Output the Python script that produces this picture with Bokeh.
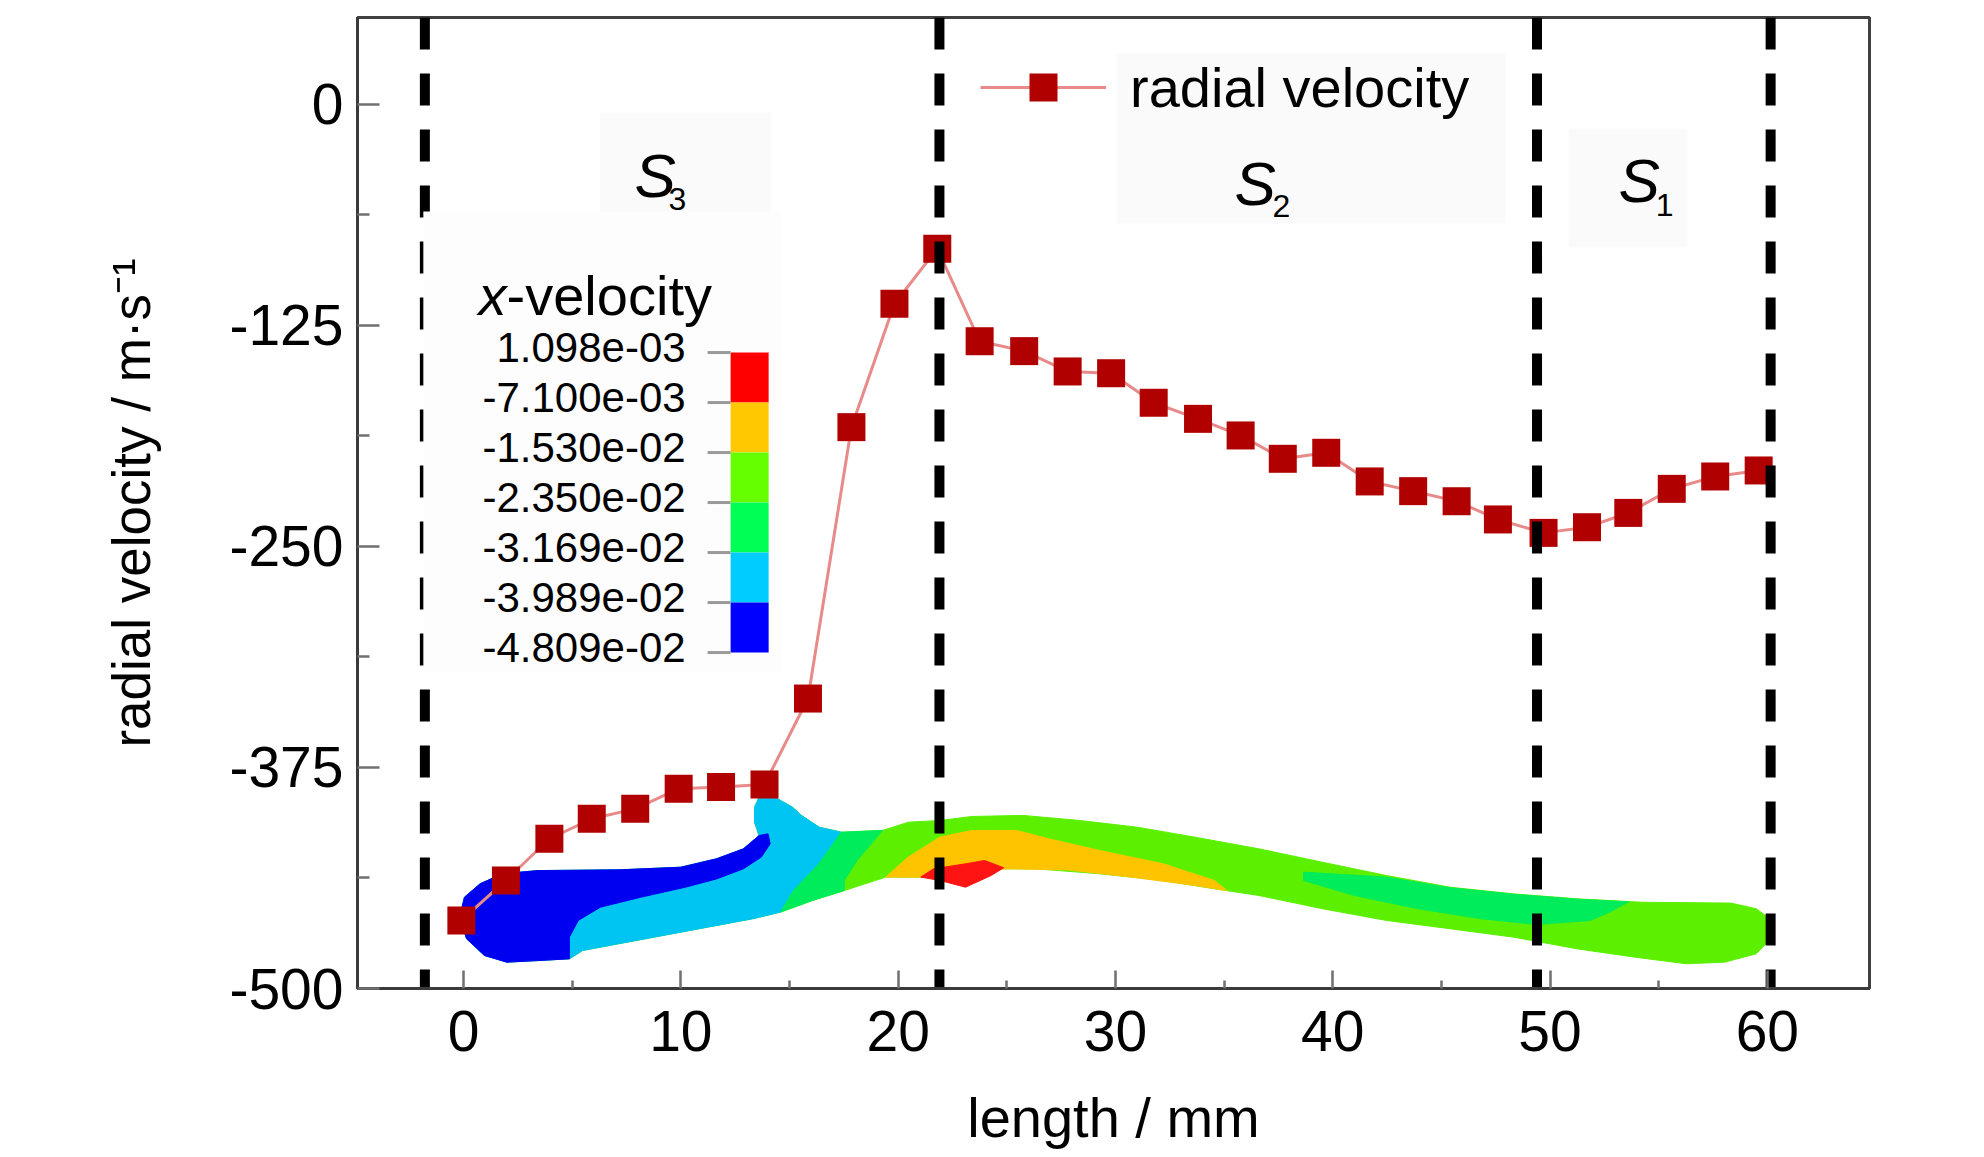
from bokeh.plotting import figure
from bokeh.models import ColumnDataSource, FixedTicker, Legend, LegendItem, CustomJSTickFormatter
from bokeh.core.properties import value
from bokeh.embed import file_html
from bokeh.resources import INLINE

# radial velocity along the nozzle
length_mm = [-0.1, 1.95, 3.95, 5.9, 7.9, 9.9, 11.85, 13.85, 15.85, 17.85, 19.83,
             21.8, 23.75, 25.8, 27.8, 29.8, 31.76, 33.8, 35.76, 37.7, 39.7,
             41.7, 43.7, 45.7, 47.6, 49.7, 51.7, 53.6, 55.6, 57.6, 59.6]
radial_velocity = [-461.5, -438.9, -415.3, -404.0, -398.4, -387.0, -386.1, -384.6,
                   -336.0, -182.5, -112.7, -81.6, -133.9, -139.5, -151.0, -152.0,
                   -168.7, -177.8, -187.2, -200.4, -197.0, -213.2, -218.7, -224.4,
                   -234.7, -242.3, -239.1, -231.0, -217.4, -210.4, -207.0]

# stage boundaries (dashed lines) and stage names
stage_bounds = [-1.78, 21.9, 49.4, 60.15]
stage_subscripts = ["3", "2", "1"]

# x-velocity colour legend
cbar_labels = ["1.098e-03", "-7.100e-03", "-1.530e-02", "-2.350e-02",
               "-3.169e-02", "-3.989e-02", "-4.809e-02"]
cbar_colors = ["#ff0000", "#ffc800", "#66ff00", "#00ff55", "#00ccff", "#0000ff"]

# x-velocity contour bands (outline in length / velocity units)
band_green_x = [-0.18, 0.04, 0.76, 1.79, 3.43, 7.13, 10.0, 11.65, 12.88, 13.6, 13.39, 13.39,
                13.6, 14.32, 15.14, 15.55, 16.37, 17.4, 19.28, 20.48, 21.92, 23.39, 25.74,
                28.38, 31.02, 33.66, 36.6, 39.53, 42.47, 45.4, 48.34, 51.27, 54.21, 58.32,
                59.49, 60.22, 60.22, 59.49, 58.03, 56.26, 53.92, 51.27, 48.34, 45.4, 42.47,
                39.53, 36.6, 34.55, 32.2, 29.26, 26.33, 24.86, 21.34, 19.43, 17.52, 16.06,
                14.59, 13.29, 11.23, 9.18, 7.13, 5.48, 4.87, 3.43, 1.99, 0.96, 0.14]
band_green_y = [-459.7, -448.4, -440.8, -435.1, -433.3, -432.9, -431.4, -426.6, -421.0, -413.5,
                -405.9, -397.5, -391.8, -391.8, -397.5, -402.1, -408.8, -411.6, -410.6, -405.9,
                -405.0, -402.7, -402.1, -405.0, -408.8, -414.4, -421.0, -428.6, -436.1, -442.7,
                -446.5, -449.3, -451.2, -451.7, -454.9, -461.5, -471.0, -480.4, -485.1, -486.0,
                -482.3, -477.6, -471.0, -466.2, -461.5, -454.9, -447.4, -443.6, -438.9, -435.1,
                -432.3, -432.3, -437.0, -437.0, -444.6, -450.2, -456.8, -460.6, -465.3, -470.0,
                -474.7, -478.5, -483.2, -484.2, -485.1, -481.3, -471.9]

band_spring_left_x = [17.38, 19.28, 18.11, 17.52, 17.52, 16.06, 14.59, 15.18, 16.35]
band_spring_left_y = [-411.6, -410.6, -427.6, -438.9, -444.6, -450.2, -456.8, -444.6, -429.5]

band_spring_right_x = [38.66, 42.47, 45.4, 48.34, 51.27, 53.62, 52.74, 51.86, 49.37, 46.87,
                       43.93, 41.0, 38.66]
band_spring_right_y = [-434.2, -437.0, -443.0, -446.7, -449.5, -451.0, -456.8, -461.5, -463.8,
                       -460.6, -454.9, -447.4, -438.9]

band_cyan_x = [13.6, 13.39, 13.39, 13.6, 14.32, 15.14, 15.55, 16.37, 17.38, 16.35, 15.18, 14.59,
               13.29, 11.23, 9.18, 7.13, 5.48, 4.87, 3.43, 1.99, 0.96, 0.14, -0.18, 0.04, 0.76,
               1.79, 3.43, 7.13, 10.0, 11.65, 12.88]
band_cyan_y = [-413.5, -405.9, -397.5, -391.8, -391.8, -397.5, -402.1, -408.8, -411.6, -429.5,
               -444.6, -456.8, -460.6, -465.3, -470.0, -474.7, -478.5, -483.2, -484.2, -485.1,
               -481.3, -471.9, -459.7, -448.4, -440.8, -435.1, -433.3, -432.9, -431.4, -426.6,
               -421.0]

band_blue_x = [-0.18, 0.04, 0.76, 1.79, 3.43, 7.13, 10.0, 11.65, 12.88, 13.6, 14.01, 14.11, 13.7,
               12.88, 11.65, 10.21, 8.15, 6.3, 5.28, 4.87, 4.87, 3.43, 1.99, 0.96, 0.14]
band_blue_y = [-459.7, -448.4, -440.8, -435.1, -433.3, -432.9, -431.4, -426.6, -421.0, -413.5,
               -412.5, -418.2, -425.7, -432.3, -438.0, -442.7, -448.4, -454.0, -461.5, -471.0,
               -483.2, -484.2, -485.1, -481.3, -471.9]

band_orange_x = [19.43, 20.46, 21.92, 23.39, 25.45, 26.92, 29.26, 32.2, 34.55, 35.13, 33.66,
                 30.73, 27.8, 25.15, 23.39, 21.34]
band_orange_y = [-437.0, -425.7, -414.4, -410.6, -410.6, -415.3, -421.9, -429.5, -438.9, -444.6,
                 -441.7, -437.0, -432.9, -432.3, -433.3, -437.0]

band_red_x = [21.04, 21.63, 23.1, 23.98, 24.86, 24.28, 23.1, 21.92]
band_red_y = [-437.0, -432.3, -429.5, -427.6, -431.7, -436.1, -442.7, -438.9]

Y_TOP = 49.2
FONT = "Liberation Sans, Arial, sans-serif"

p = figure(frame_width=1512, frame_height=971,
           x_range=(-4.88, 64.70), y_range=(-500, Y_TOP),
           min_border_left=357, min_border_top=17, min_border_right=110, min_border_bottom=160,
           output_backend="svg", toolbar_location=None, title=None)

p.grid.visible = False
p.outline_line_color = "#404040"
p.outline_line_width = 3

# axes
p.xaxis.ticker = FixedTicker(ticks=[0, 10, 20, 30, 40, 50, 60],
                             minor_ticks=[5, 15, 25, 35, 45, 55])
p.yaxis.ticker = FixedTicker(ticks=[-500, -375, -250, -125, 0],
                             minor_ticks=[-437.5, -312.5, -187.5, -62.5])
for ax in (p.xaxis[0], p.yaxis[0]):
    ax.formatter = CustomJSTickFormatter(code="return tick.toFixed(0)")
    ax.axis_line_color = "#3a3a3a"
    ax.axis_line_width = 3
    ax.major_tick_line_color = "#707070"
    ax.minor_tick_line_color = "#707070"
    ax.major_tick_line_width = 2.5
    ax.minor_tick_line_width = 2.5
    ax.major_tick_out = 0
    ax.minor_tick_out = 0
    ax.major_label_text_font = FONT
    ax.major_label_text_font_size = "57px"
    ax.major_label_text_color = "black"
    ax.axis_label_text_font = FONT
    ax.axis_label_text_font_style = "normal"
    ax.axis_label_text_color = "black"

p.yaxis.major_tick_in = 22
p.yaxis.minor_tick_in = 12
p.xaxis.major_tick_in = 18
p.xaxis.minor_tick_in = 8
p.yaxis.major_label_standoff = 14
p.xaxis.major_label_standoff = 22
p.yaxis.axis_label = "radial velocity / m\u00b7s\u207b\u00b9"
p.xaxis.axis_label = "length / mm"
p.yaxis.axis_label_text_font_size = "53px"
p.xaxis.axis_label_text_font_size = "56px"
p.yaxis.axis_label_standoff = 65
p.xaxis.axis_label_standoff = 32

# faint boxes behind the stage names
p.quad(left=[6.26, 30.05, 50.85], right=[14.17, 47.95, 56.33],
       top=[-4.5, 28.8, -13.6], bottom=[-63.9, -67.3, -80.9],
       fill_color="#fafafa", line_color=None)

# contour bands of the x-velocity
bands = [(band_green_x, band_green_y, "#5cf000"),
         (band_cyan_x, band_cyan_y, "#00c4f2"),
         (band_blue_x, band_blue_y, "#0000f0"),
         (band_spring_left_x, band_spring_left_y, "#00ec5a"),
         (band_spring_right_x, band_spring_right_y, "#00ec5a"),
         (band_orange_x, band_orange_y, "#ffc400"),
         (band_red_x, band_red_y, "#ff1414")]
for bx, by, col in bands:
    p.patch(bx, by, fill_color=col, line_color=col, line_width=1)

src = ColumnDataSource(dict(x=length_mm, y=radial_velocity))
line_r = p.line("x", "y", source=src, line_color="#e88a8a", line_width=3)
sq_r = p.scatter("x", "y", source=src, marker="square", size=28,
                 fill_color="#b00000", line_color=None)

# stage boundaries
p.segment(x0=stage_bounds, y0=[Y_TOP] * 4, x1=stage_bounds, y1=[-500] * 4,
          line_color="black", line_width=10, line_dash="32 24")

# stage names S3, S2, S1
p.text(x=[7.87, 35.48, 53.15], y=[-40.0, -44.5, -42.8], text=["S"] * 3,
       text_font=value(FONT), text_font_size="62px", text_font_style="italic",
       text_baseline="middle", text_align="left", text_color="black")
p.text(x=[9.43, 37.23, 54.86], y=[-53.5, -57.4, -56.8], text=stage_subscripts,
       text_font=value(FONT), text_font_size="32px", text_baseline="middle",
       text_align="left", text_color="black")

# x-velocity colour legend, drawn over the first stage line
p.quad(left=[-1.85], right=[14.63], top=[-60.5], bottom=[-321.3],
       fill_color="#fdfdfd", line_color=None)
p.text(x=[0.69], y=[-108.0], text=["x"], text_font=value(FONT), text_font_size="56px",
       text_font_style="italic", text_baseline="middle", text_align="left")
p.text(x=[1.98], y=[-108.0], text=["-velocity"], text_font=value(FONT),
       text_font_size="56px", text_baseline="middle", text_align="left")

cb_top, cb_step = -140.3, -28.28
edges = [cb_top + i * cb_step for i in range(len(cbar_labels))]
p.quad(left=[12.29] * 6, right=[14.04] * 6, top=edges[:-1], bottom=edges[1:],
       fill_color=cbar_colors, line_color=None)
p.segment(x0=[11.23] * 7, y0=edges, x1=[12.29] * 7, y1=edges,
          line_color="#9a9a9a", line_width=3)
p.text(x=[10.22] * 7, y=[e + 3 for e in edges], text=cbar_labels,
       text_font=value(FONT), text_font_size="42px", text_baseline="middle",
       text_align="right", text_color="black")

legend = Legend(items=[LegendItem(label="radial velocity", renderers=[line_r, sq_r])],
                location=(623, 866), padding=0, margin=0, spacing=0,
                glyph_width=126, glyph_height=70, label_height=70, label_standoff=24,
                label_text_font=FONT, label_text_font_size="56px",
                label_text_color="black", label_text_baseline="middle",
                background_fill_alpha=0, border_line_alpha=0)
p.add_layout(legend)

open("out.html", "w").write(file_html(p, INLINE))
